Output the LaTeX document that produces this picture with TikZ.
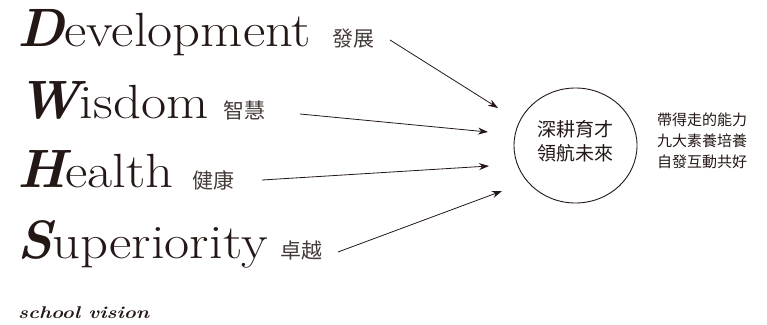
\documentclass[tikz,border=0pt]{standalone}
\usepackage{fontspec}
\newfontfamily\cjk{Noto Sans CJK TC}
\usetikzlibrary{arrows.meta,shapes.geometric}
\definecolor{ink}{HTML}{231815}
\newcommand\Ini[1]{{\fontsize{54}{54}\selectfont\bfseries\itshape #1}}
\newcommand\Rest[1]{\scalebox{1.14}[1]{#1}}
\begin{document}
\begin{tikzpicture}[x=1pt,y=-1pt,
  word/.style={anchor=base west, inner sep=0pt, text=ink, font=\fontsize{48}{48}\selectfont},
  zh/.style={anchor=base west, inner sep=0pt, text=ink!85, font=\cjk\fontsize{21}{21}\selectfont},
  arr/.style={-{Stealth[length=10pt,width=7pt]}, line width=0.8pt, draw=ink},
  hub/.style={draw=ink, line width=0.9pt, ellipse, minimum width=123pt, minimum height=115pt, inner sep=0pt},
  hubtext/.style={text=ink, align=center, font=\cjk\fontsize{19}{24}\selectfont},
  note/.style={text=ink, align=center, font=\cjk\fontsize{15}{21}\selectfont}]
\useasboundingbox (0,0) rectangle (767,324);
% words
\node[word] (w1) at (17,46) {\Ini{D}\Rest{evelopment}};
\node[word] (w2) at (17,118) {\Ini{W}\Rest{isdom}};
\node[word] (w3) at (17,187) {\Ini{H}\Rest{ealth}};
\node[word] (w4) at (17,258) {\Ini{S}\Rest{uperiority}};
% chinese labels
\node[zh] (z1) at (332,46) {發展};
\node[zh] (z2) at (223,118) {智慧};
\node[zh] (z3) at (192,188) {健康};
\node[zh] (z4) at (280,258) {卓越};
% hub
\node[hub] (hub) at (575.5,145.5) {};
\node[hubtext] (hubt) at (575.5,141) {深耕育才\\領航未來};
\node[note] (note) at (702,141) {帶得走的能力\\九大素養培養\\自發互動共好};
% school vision
\node[anchor=base west, inner sep=0pt, text=ink, font=\fontsize{17}{17}\selectfont\bfseries\itshape, xscale=1.2] (sv) at (18,318) {school vision};
% arrows
\coordinate (s1) at (390,40); \coordinate (e1) at (498,108);
\coordinate (s2) at (300,114); \coordinate (e2) at (488,132);
\coordinate (s3) at (262,180); \coordinate (e3) at (489,166);
\coordinate (s4) at (338,252); \coordinate (e4) at (502,191);
\draw[arr] (s1) -- (e1);
\draw[arr] (s2) -- (e2);
\draw[arr] (s3) -- (e3);
\draw[arr] (s4) -- (e4);
\end{tikzpicture}
\end{document}
